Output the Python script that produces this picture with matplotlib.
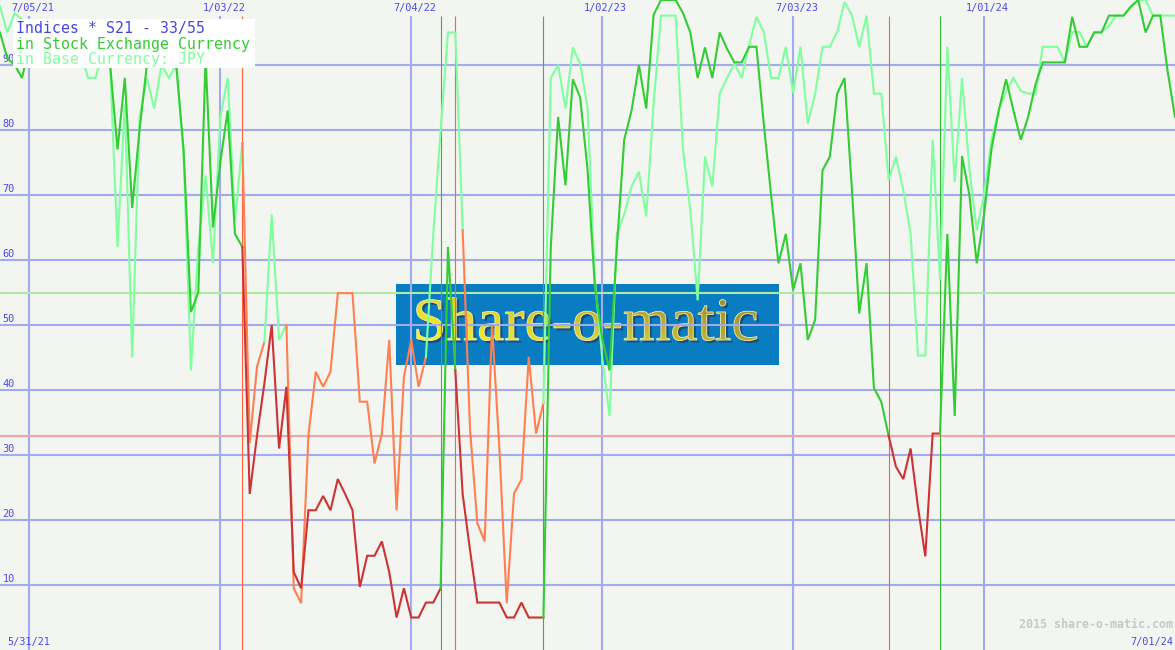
import numpy as np
import pandas as pd
import matplotlib
matplotlib.use('Agg')
import matplotlib.pyplot as plt
from matplotlib.patches import Rectangle, PathPatch
from matplotlib.textpath import TextPath
from matplotlib.font_manager import FontProperties
from matplotlib.transforms import Affine2D
from matplotlib.colors import LinearSegmentedColormap

# weekly closes (Mondays)
weeks = pd.date_range('2021-06-07', periods=161, freq='7D')

stock_ccy = [95, 91, 90, 88, 93, 95, 94, 96, 95, 93,
             94, 95, 93, 94, 95, 90, 77, 88, 68, 80,
             90, 91, 91, 90, 90, 77, 52, 55, 91, 65,
             75, 83, 64, 62, 24, 33, 41, 50, 31, 40.5,
             12, 9.5, 21.5, 21.5, 23.7, 21.5, 26.3, 24, 21.5, 9.7,
             14.5, 14.5, 16.7, 12, 5, 9.5, 5, 5, 7.3, 7.3,
             9.5, 62, 43, 24, 15.4, 7.3, 7.3, 7.3, 7.3, 5,
             5, 7.3, 5, 5, 5, 62, 82, 71.5, 87.8, 85,
             74, 56, 48, 43, 62, 78.5, 83, 90, 83.3, 97.7,
             100, 100, 100, 98, 95, 88, 92.7, 88, 95, 92.5,
             90.4, 90.4, 92.8, 92.8, 81, 70, 59.5, 64, 55.4, 59.5,
             47.7, 50.8, 73.8, 75.9, 85.6, 88, 71, 51.8, 59.5, 40.3,
             38.2, 33, 28.2, 26.3, 31, 22, 14.4, 33.3, 33.3, 64,
             36, 76, 70, 59.5, 67, 77, 83, 87.8, 83, 78.5,
             82, 87, 90.4, 90.4, 90.4, 90.4, 97.4, 92.8, 92.8, 95,
             95, 97.6, 97.6, 97.6, 99, 100, 95, 97.6, 97.6, 89,
             82]

base_ccy = [99, 95, 98, 97, 95, 94, 95, 93, 94, 95,
            94, 92, 88, 88, 92, 90, 62, 84, 45, 82,
            88, 83.3, 90, 88, 90, 76, 43, 62, 73, 59.5,
            82, 88, 66, 78, 31.8, 43.6, 47.4, 67, 47.7, 50,
            9.5, 7.2, 33, 42.8, 40.5, 42.8, 54.9, 54.9, 54.9, 38.2,
            38.2, 28.7, 33.3, 47.7, 21.5, 42, 47.7, 40.5, 45.1, 64,
            80, 95, 95, 64.6, 34, 19.5, 16.7, 50, 31, 7.2,
            24.1, 26.2, 45.1, 33.3, 38, 88, 90, 83.3, 92.7, 90.2,
            83.5, 57, 45, 36, 64, 67, 71.3, 73.6, 66.7, 84,
            97.6, 97.6, 97.6, 77, 67.7, 53.8, 75.9, 71.3, 85.6, 88,
            90.2, 88, 93, 97.4, 95.1, 88, 88, 92.8, 85.7, 92.8,
            81, 85.6, 92.8, 92.8, 95.1, 99.7, 97.7, 92.8, 97.6, 85.6,
            85.6, 72.3, 75.9, 70.8, 64, 45.3, 45.3, 78.5, 57, 92.8,
            72, 88, 74, 64.6, 70, 78.5, 83, 86, 88, 86,
            85.6, 85.6, 92.8, 92.8, 92.8, 90.4, 95.1, 95.1, 92.8, 95.1,
            95.1, 96, 97.6, 97.6, 99, 100, 100, 97.6, 97.6, 97.6,
            97.6]

# periods where each line is in "sell" mode
stock_sell = [('2022-01-24', '2022-08-01'), ('2022-08-15', '2022-11-07'),
              ('2023-10-02', '2023-11-20')]
base_sell = [('2022-01-24', '2022-02-14'), ('2022-03-07', '2022-07-18'),
             ('2022-08-22', '2022-11-07')]
sell_signals = ['2022-01-24', '2022-08-15', '2023-10-02']
buy_signals = ['2022-08-01', '2022-11-07', '2023-11-20']

grid_dates = ['2021-07-05', '2022-01-03', '2022-07-04', '2023-01-02', '2023-07-03', '2024-01-01']
grid_labels = ['7/05/21', '1/03/22', '7/04/22', '1/02/23', '7/03/23', '1/01/24']
y_levels = [10, 20, 30, 40, 50, 60, 70, 80, 90]
low_level, high_level = 33, 55
start_label, end_label = '5/31/21', '7/01/24'
legend_lines = ['Indices * S21 - 33/55', 'in Stock Exchange Currency', 'in Base Currency: JPY']

BG = '#f3f5f1'
GRID = '#a3abf0'
LABEL = '#4a4af0'
mono = 'DejaVu Sans Mono'
W, H = 1175, 650


def sell_mask(periods):
    mask = np.zeros(len(weeks), dtype=bool)
    for a, b in periods:
        mask |= (weeks >= pd.Timestamp(a)) & (weeks < pd.Timestamp(b))
    return mask


def draw_line(ax, values, mask, up_color, down_color, z):
    v = np.asarray(values, dtype=float)
    cuts = list(np.flatnonzero(np.diff(mask.astype(int))) + 1)
    bounds = [0] + cuts + [len(v) - 1]
    for a, b in zip(bounds[:-1], bounds[1:]):
        ax.plot(weeks[a:b + 1], v[a:b + 1], color=down_color if mask[a] else up_color,
                lw=1.5, zorder=z, solid_joinstyle='miter')


fig = plt.figure(figsize=(W / 100, H / 100), dpi=100, facecolor=BG)
ax = fig.add_axes([0, 0, 1, 1])
ax.set_facecolor(BG)
for s in ax.spines.values():
    s.set_visible(False)

# logo in the background (blue box + gradient lettering)
ax.add_patch(Rectangle((0.337, 0.4385), 0.326, 0.1246, transform=ax.transAxes,
                       facecolor='#0a7cc2', edgecolor='none', zorder=1))
tp = TextPath((0, 0), 'Share-o-matic', size=44, prop=FontProperties(family='Liberation Serif'))
bb = tp.get_extents()
sx, sy = (100 / 72) / W, (100 / 72) / H
x0 = 0.4993 - (bb.x0 + bb.width / 2) * sx
y0 = 0.4769
shadow = PathPatch(tp, transform=Affine2D().scale(sx, sy).translate(x0 + 2.5 / W, y0 - 2.5 / H) + ax.transAxes,
                   facecolor='#23405a', edgecolor='none', alpha=0.75, zorder=1.3)
ax.add_patch(shadow)
letters = PathPatch(tp, transform=Affine2D().scale(sx, sy).translate(x0, y0) + ax.transAxes,
                    facecolor='none', edgecolor='#f4f0b0', lw=0.6, zorder=1.6)
ax.add_patch(letters)
gx = np.linspace(0, 1, 256)
gy = np.linspace(0, 1, 64)
grad = 0.75 * gx[None, :] + 0.35 * (1 - gy[:, None])
cmap = LinearSegmentedColormap.from_list('logo', ['#fbf424', '#e2d62c', '#b6a834', '#958a2c'])
img = ax.imshow(grad, cmap=cmap, vmin=0, vmax=1.1, aspect='auto', transform=ax.transAxes, zorder=1.5,
                extent=[x0 + bb.x0 * sx, x0 + bb.x1 * sx, y0 + bb.y0 * sy, y0 + bb.y1 * sy])
img.set_clip_path(letters)

ax.set_xlim(pd.Timestamp('2021-06-07'), pd.Timestamp('2024-07-01'))
ax.set_ylim(0, 100)
ax.set_xticks([])
ax.set_yticks([])

# grid
for v in y_levels:
    ax.axhline(v, color=GRID, lw=1.5, zorder=2)
    ax.annotate(str(v), (0.002, v), xycoords=ax.get_yaxis_transform(), xytext=(0, 1),
                textcoords='offset points', ha='left', va='bottom', fontsize=7.4,
                family=mono, color=LABEL, zorder=3)
ax.vlines(pd.to_datetime(grid_dates), 0, 97.5, color=GRID, lw=1.5, zorder=2)
for d, lab in zip(grid_dates, grid_labels):
    ax.annotate(lab, (pd.Timestamp(d), 98.72), xytext=(2.5, 0), textcoords='offset points',
                ha='center', va='center', fontsize=7.4, family=mono, color=LABEL, zorder=3)

ax.axhline(low_level, color='#f4a4a4', lw=1.5, zorder=2.5)
ax.axhline(high_level, color='#aeeaa4', lw=1.5, zorder=2.5)

ax.vlines(pd.to_datetime(sell_signals), 0, 97.5, color='#ff6040', lw=0.8, zorder=3)
ax.vlines(pd.to_datetime(buy_signals), 0, 97.5, color='#33bb33', lw=0.8, zorder=3)

draw_line(ax, base_ccy, sell_mask(base_sell), '#80ff9f', '#ff7f50', 4)
draw_line(ax, stock_ccy, sell_mask(stock_sell), '#33cc33', '#cc3333', 5)

# legend box
ax.add_patch(Rectangle((0.0108, 0.895), 0.2062, 0.0757, transform=ax.transAxes,
                       facecolor='white', edgecolor='none', zorder=10))
for txt, col, yy in zip(legend_lines, ['#4646e6', '#33cc33', '#80ffa0'], [0.9569, 0.9323, 0.9077]):
    ax.text(0.0136, yy, txt, transform=ax.transAxes, ha='left', va='center',
            fontsize=10.7, family=mono, color=col, zorder=11)

ax.text(0.006, 0.0128, start_label, transform=ax.transAxes, ha='left', va='center',
        fontsize=7.4, family=mono, color=LABEL, zorder=3)
ax.text(0.9981, 0.0128, end_label, transform=ax.transAxes, ha='right', va='center',
        fontsize=7.4, family=mono, color=LABEL, zorder=3)
ax.text(0.9981, 0.0385, '2015 share-o-matic.com', transform=ax.transAxes, ha='right',
        va='center', fontsize=8.4, family=mono, fontweight='bold', color='#c8c8c8', zorder=3)

fig.savefig('out.png', dpi=100, facecolor=BG)
